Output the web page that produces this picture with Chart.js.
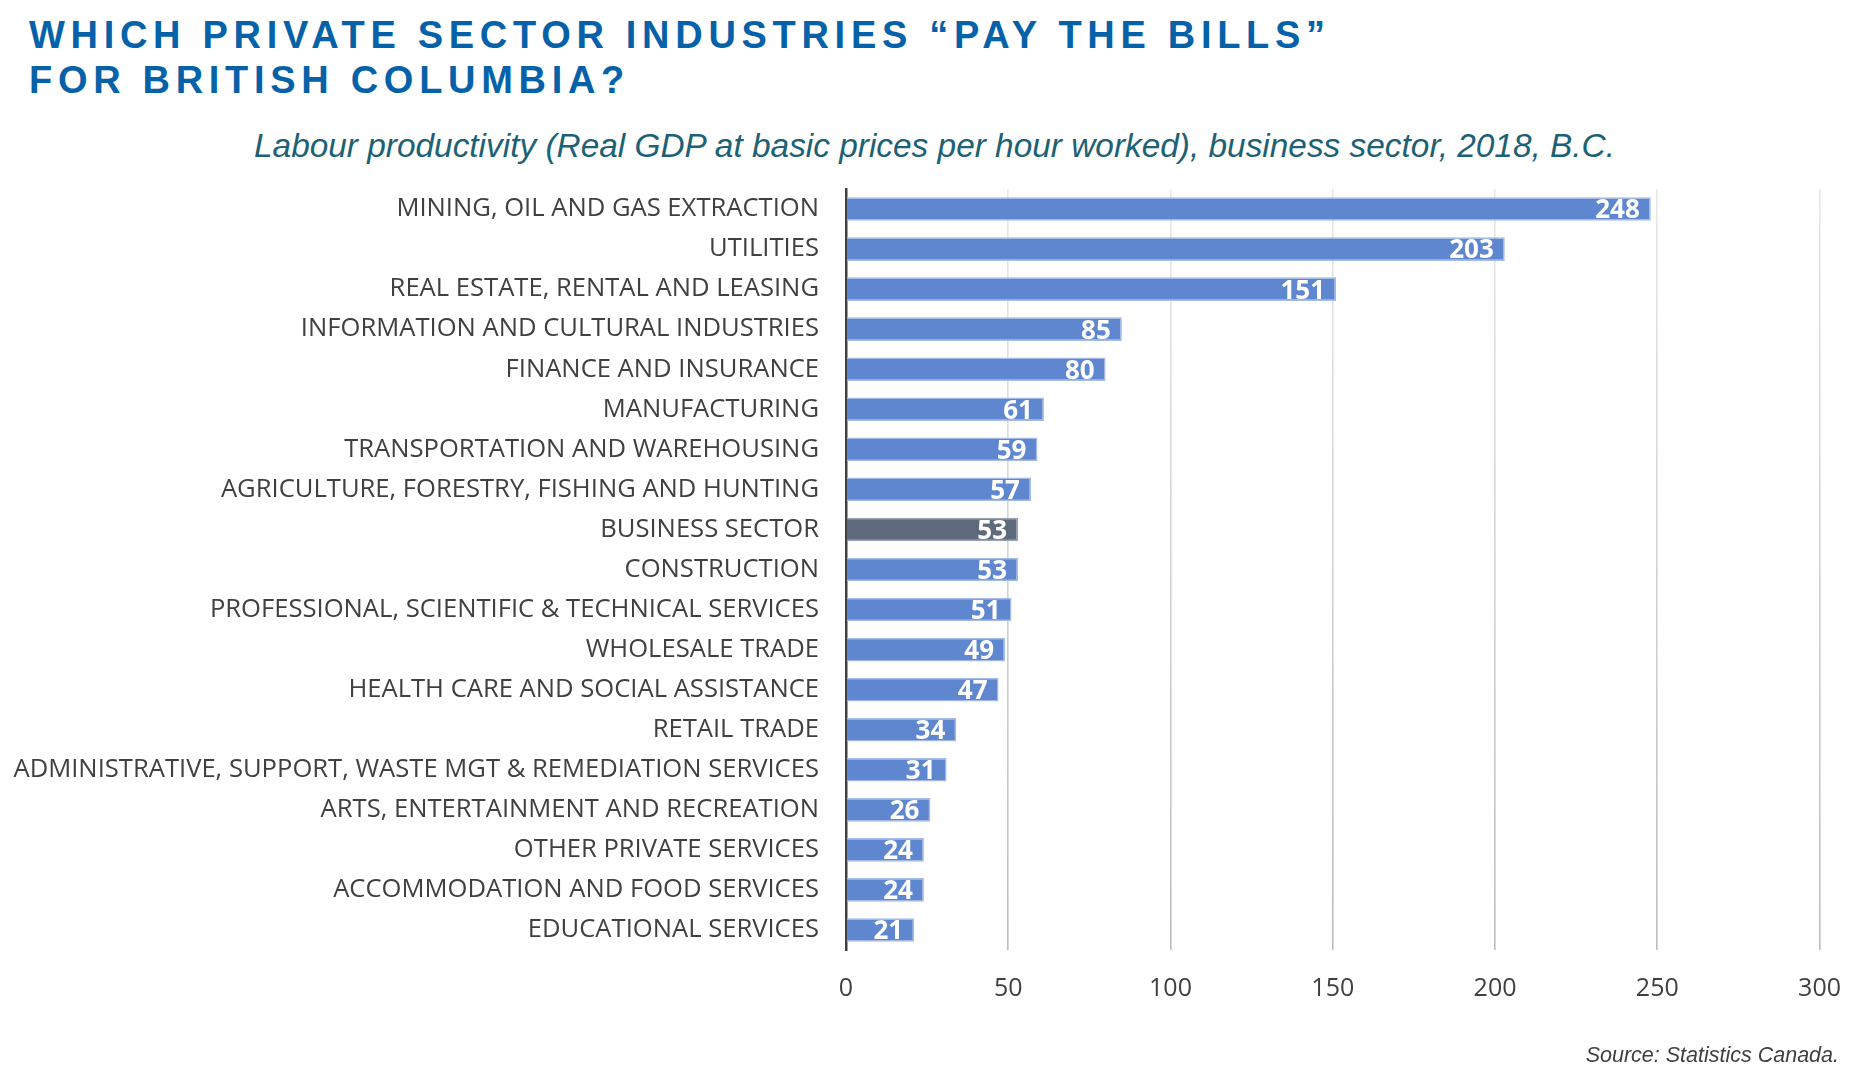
<!DOCTYPE html>
<html>
<head>
<meta charset="utf-8">
<script src="https://cdn.jsdelivr.net/npm/chart.js@4.4.1/dist/chart.umd.min.js"></script>
<style>
    html, body { margin: 0; padding: 0; background: #fff; }
    body { width: 1865px; height: 1086px; position: relative; overflow: hidden; }
    .title {
        position: absolute; left: 29px;
        font-family: "Liberation Sans", Arial, sans-serif;
        font-weight: bold; font-size: 38px; line-height: 38px;
        letter-spacing: 5.7px; color: #0562a8; white-space: nowrap;
    }
    .subtitle {
        position: absolute; left: 254px; top: 129px;
        font-family: "Liberation Sans", Arial, sans-serif;
        font-style: italic; font-size: 33.4px; line-height: 33.4px;
        color: #1d6175; white-space: nowrap;
    }
    .source {
        position: absolute; right: 26px; top: 1045px;
        font-family: "Liberation Sans", Arial, sans-serif;
        font-style: italic; font-size: 21.5px; line-height: 21.5px;
        color: #404040; white-space: nowrap;
    }
    #wrap { position: absolute; left: 0; top: 0; width: 1865px; height: 1086px; }
</style>
</head>
<body>
<div class="title" style="top:16px">WHICH PRIVATE SECTOR INDUSTRIES “PAY THE BILLS”</div>
<div class="title" style="top:61px">FOR BRITISH COLUMBIA?</div>
<div class="subtitle">Labour productivity (Real GDP at basic prices per hour worked), business sector, 2018, B.C.</div>
<div id="wrap"><canvas id="productivity"></canvas></div>
<div class="source">Source: Statistics Canada.</div>

<script>
const industries = [
    "MINING, OIL AND GAS EXTRACTION",
    "UTILITIES",
    "REAL ESTATE, RENTAL AND LEASING",
    "INFORMATION AND CULTURAL INDUSTRIES",
    "FINANCE AND INSURANCE",
    "MANUFACTURING",
    "TRANSPORTATION AND WAREHOUSING",
    "AGRICULTURE, FORESTRY, FISHING AND HUNTING",
    "BUSINESS SECTOR",
    "CONSTRUCTION",
    "PROFESSIONAL, SCIENTIFIC & TECHNICAL SERVICES",
    "WHOLESALE TRADE",
    "HEALTH CARE AND SOCIAL ASSISTANCE",
    "RETAIL TRADE",
    "ADMINISTRATIVE, SUPPORT, WASTE MGT & REMEDIATION SERVICES",
    "ARTS, ENTERTAINMENT AND RECREATION",
    "OTHER PRIVATE SERVICES",
    "ACCOMMODATION AND FOOD SERVICES",
    "EDUCATIONAL SERVICES"
];
const productivity = [248, 203, 151, 85, 80, 61, 59, 57, 53, 53, 51, 49, 47, 34, 31, 26, 24, 24, 21];
const xTicks = [0, 50, 100, 150, 200, 250, 300];

const barBlue = "#5f87cf";
const barSlate = "#5e6a7c";
const barColors = industries.map(name => name === "BUSINESS SECTOR" ? barSlate : barBlue);
const borderColors = industries.map(name => name === "BUSINESS SECTOR" ? "#9aa3b3" : "#a4bbe7");

let gridGradient = null;
function gridColor(context) {
    const area = context.chart.chartArea;
    if (!area) return "#d0d0d0";
    if (!gridGradient) {
        gridGradient = context.chart.ctx.createLinearGradient(0, area.top, 0, area.bottom);
        gridGradient.addColorStop(0, "#e8e8e8");
        gridGradient.addColorStop(1, "#bdbdbd");
    }
    return gridGradient;
}

const ctx = document.getElementById("productivity").getContext("2d");

new Chart(ctx, {
    type: "bar",
    data: {
        labels: industries,
        datasets: [{
            data: productivity,
            backgroundColor: barColors,
            borderColor: borderColors,
            borderWidth: 1.5,
            borderSkipped: "left",
            barPercentage: 0.59,
            categoryPercentage: 1.0
        }]
    },
    options: {
        indexAxis: "y",
        responsive: true,
        maintainAspectRatio: false,
        animation: false,
        layout: {
            padding: { left: 0, right: 38, top: 189, bottom: 76 }
        },
        plugins: {
            legend: { display: false },
            tooltip: { enabled: false },
            title: { display: false }
        },
        scales: {
            x: {
                min: 0,
                max: 300,
                afterFit: scale => { scale.height = 60; },
                afterBuildTicks: scale => { scale.ticks = xTicks.map(v => ({ value: v })); },
                grid: {
                    color: gridColor,
                    lineWidth: 1.6,
                    drawTicks: false
                },
                border: { display: false },
                ticks: {
                    padding: 24,
                    color: "#404040",
                    font: { family: "'Open Sans', sans-serif", size: 25 }
                }
            },
            y: {
                afterFit: scale => { scale.width = 846; },
                grid: { display: false, drawTicks: false },
                border: { display: true, color: "#404040", width: 2.5 },
                ticks: {
                    padding: 27,
                    color: "#404040",
                    autoSkip: false,
                    font: { family: "'Open Sans', sans-serif", size: 25.6 }
                }
            }
        }
    },
    plugins: [{
        id: "barValueLabels",
        afterDatasetsDraw: function (chart) {
            const c = chart.ctx;
            const meta = chart.getDatasetMeta(0);
            c.save();
            c.font = "bold 26px 'Open Sans', sans-serif";
            c.fillStyle = "#ffffff";
            c.textAlign = "right";
            c.textBaseline = "middle";
            meta.data.forEach((bar, i) => {
                c.fillText(String(productivity[i]), bar.x - 11, bar.y + 2);
            });
            c.restore();
        }
    }]
});
</script>
</body>
</html>
